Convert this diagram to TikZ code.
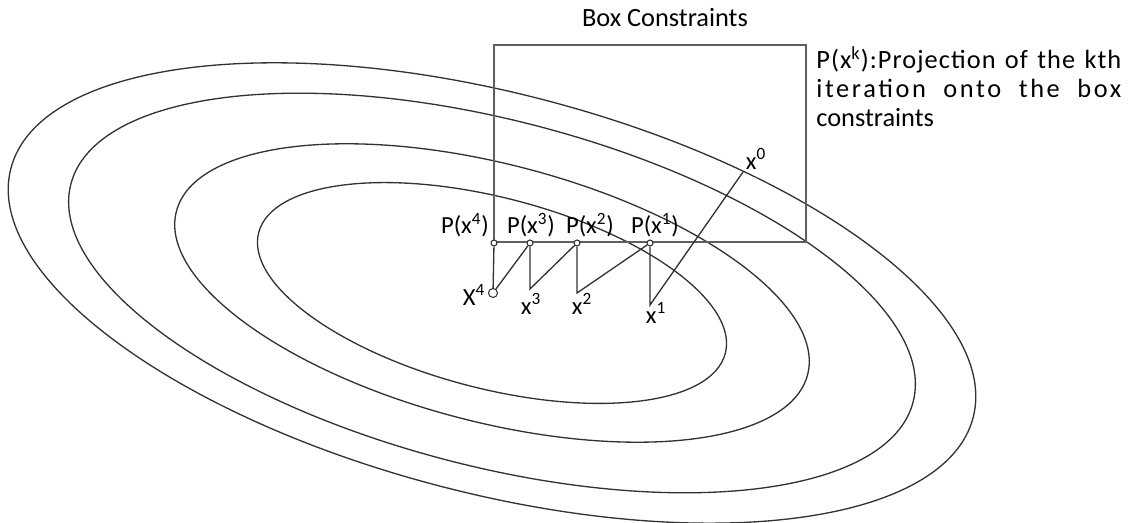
\documentclass[tikz,border=0pt]{standalone}
\usepackage{fontspec}
\setmainfont{Carlito}
\usetikzlibrary{positioning}
\definecolor{LineGrey}{RGB}{50,50,50}
\definecolor{BoxGrey}{RGB}{95,95,95}

\begin{document}
\begin{tikzpicture}[
    x=0.02cm,
    y=0.02cm,
    font=\fontsize{14}{16}\selectfont,
    level/.style={draw=LineGrey, line width=0.75pt},
    proj/.style={circle, draw=LineGrey, fill=white, line width=0.6pt, inner sep=0pt, minimum size=0.12cm}
]
\useasboundingbox (0,0) rectangle (1131,523);

% Level sets
\foreach \a/\b in {241/95.5, 326/129, 435/173, 497/200}{
  \draw[level, rotate around={-14.5:(492,230)}] (492,230) ellipse [x radius=\a, y radius=\b];
}

% Box constraints
\draw[BoxGrey, line width=1pt] (494,281) rectangle (806,478);
\node[font=\fontsize{15}{17}\selectfont] (boxlabel) at (665,505) {Box Constraints};

\node[anchor=north west, inner sep=0pt, text width=6.1cm, align=justify,
      font=\fontsize{15}{16.6}\selectfont] (note) at (816,477)
  {{\addfontfeature{LetterSpace=4}P(x\textsuperscript{k}):Projection of the kth}\linebreak
   {\addfontfeature{LetterSpace=10}iteration onto the box}\linebreak
   constraints};

% Projections onto the box
\foreach \k/\x in {4/494,3/530,2/577,1/650}{
  \node[proj] (p\k) at (\x,280) {};
}

% Iterates
\node[circle, draw=LineGrey, line width=0.6pt, inner sep=0pt, minimum size=0.18cm] (x4) at (493,230) {};
\coordinate (x3) at (530,234);
\coordinate (x2) at (577,230);
\coordinate (x1) at (650,218);
\coordinate (x0) at (743,351);

% Projected path
\draw[level] (x0) -- (x1) -- (p1) -- (x2) -- (p2) -- (x3) -- (p3) -- (x4) -- (p4);

% Labels
\node (lp4) at (465,298) {P(x\textsuperscript{4})};
\node (lp3) at (531,298) {P(x\textsuperscript{3})};
\node (lp2) at (590,298) {P(x\textsuperscript{2})};
\node (lp1) at (655,298) {P(x\textsuperscript{1})};
\node (lx4) at (474,228) {X\textsuperscript{4}};
\node (lx3) at (531,219) {x\textsuperscript{3}};
\node (lx2) at (582,219) {x\textsuperscript{2}};
\node (lx1) at (656,210) {x\textsuperscript{1}};
\node (lx0) at (756,364) {x\textsuperscript{0}};

\end{tikzpicture}
\end{document}
